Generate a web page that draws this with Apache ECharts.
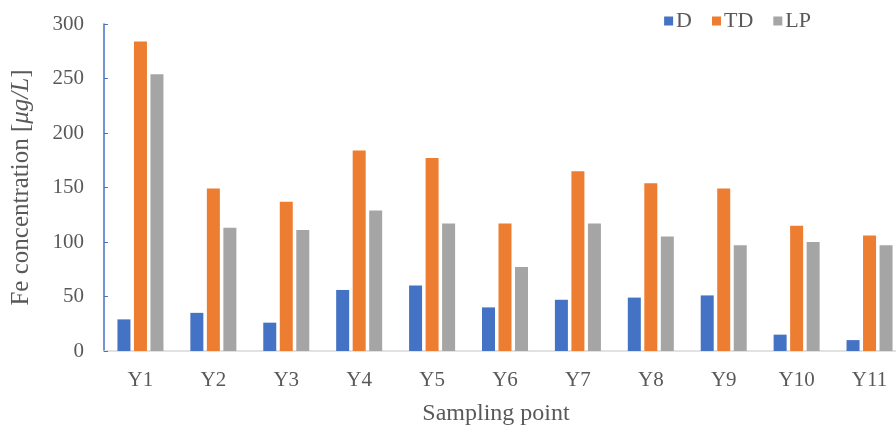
<!DOCTYPE html>
<html><head><meta charset="utf-8">
<script src="https://cdn.jsdelivr.net/npm/echarts@6/dist/echarts.min.js"></script>
<style>html,body{margin:0;padding:0;background:#fff}#c{width:896px;height:430px}</style>
</head><body><div id="c"></div>
<script>
const categories = ['Y1','Y2','Y3','Y4','Y5','Y6','Y7','Y8','Y9','Y10','Y11'];
const seriesD  = [29, 35, 26, 56, 60, 40, 47, 49, 51, 15, 10];
const seriesTD = [284, 149, 137, 184, 177, 117, 165, 154, 149, 115, 106];
const seriesLP = [254, 113, 111, 129, 117, 77, 117, 105, 97, 100, 97];
const yTicks = [0, 50, 100, 150, 200, 250, 300];

const font = '"Liberation Serif", "Times New Roman", serif';
const chart = echarts.init(document.getElementById('c'), null, {renderer: 'canvas'});
chart.setOption({
  animation: false,
  color: ['#4472C4', '#ED7D31', '#A5A5A5'],
  legend: {
    top: 5, right: 80, icon: 'rect', itemWidth: 9, itemHeight: 9, itemGap: 20,
    textStyle: {fontFamily: font, fontSize: 22, color: '#595959', padding: [0,0,0,-2]}
  },
  grid: {left: 104, top: 24, width: 802, height: 327, outerBoundsMode: 'none', containLabel: false},
  xAxis: {
    type: 'category', data: categories,
    axisLine: {lineStyle: {color: '#D9D9D9', width: 1.5}},
    axisTick: {show: false},
    axisLabel: {fontFamily: font, fontSize: 21, color: '#595959', margin: 19},
    name: 'Sampling point', nameLocation: 'middle', nameGap: 51,
    nameTextStyle: {fontFamily: font, fontSize: 24, color: '#595959', padding: [0, 18, 0, 0]}
  },
  yAxis: {
    type: 'value', min: 0, max: yTicks[yTicks.length-1], interval: 50,
    axisLine: {show: true, lineStyle: {color: '#4472C4', width: 1.5}},
    axisTick: {show: true, inside: true, length: 4, lineStyle: {color: '#4472C4'}},
    splitLine: {show: false},
    axisLabel: {fontFamily: font, fontSize: 21, color: '#595959', margin: 20},
    name: '{n|Fe concentration [}{i|μg/L}{n|]}', nameLocation: 'middle', nameGap: 70, nameRotate: 90,
    nameTextStyle: {
      padding: [0, 0, 0, 0],
      rich: {
        n: {fontFamily: font, fontSize: 25, color: '#595959'},
        i: {fontFamily: font, fontSize: 25, color: '#595959', fontStyle: 'italic'}
      }
    }
  },
  series: [
    {name: 'D', type: 'bar', data: seriesD, barWidth: 13, barGap: '27%'},
    {name: 'TD', type: 'bar', data: seriesTD, barWidth: 13, barGap: '27%'},
    {name: 'LP', type: 'bar', data: seriesLP, barWidth: 13, barGap: '27%'}
  ]
});
</script></body></html>
